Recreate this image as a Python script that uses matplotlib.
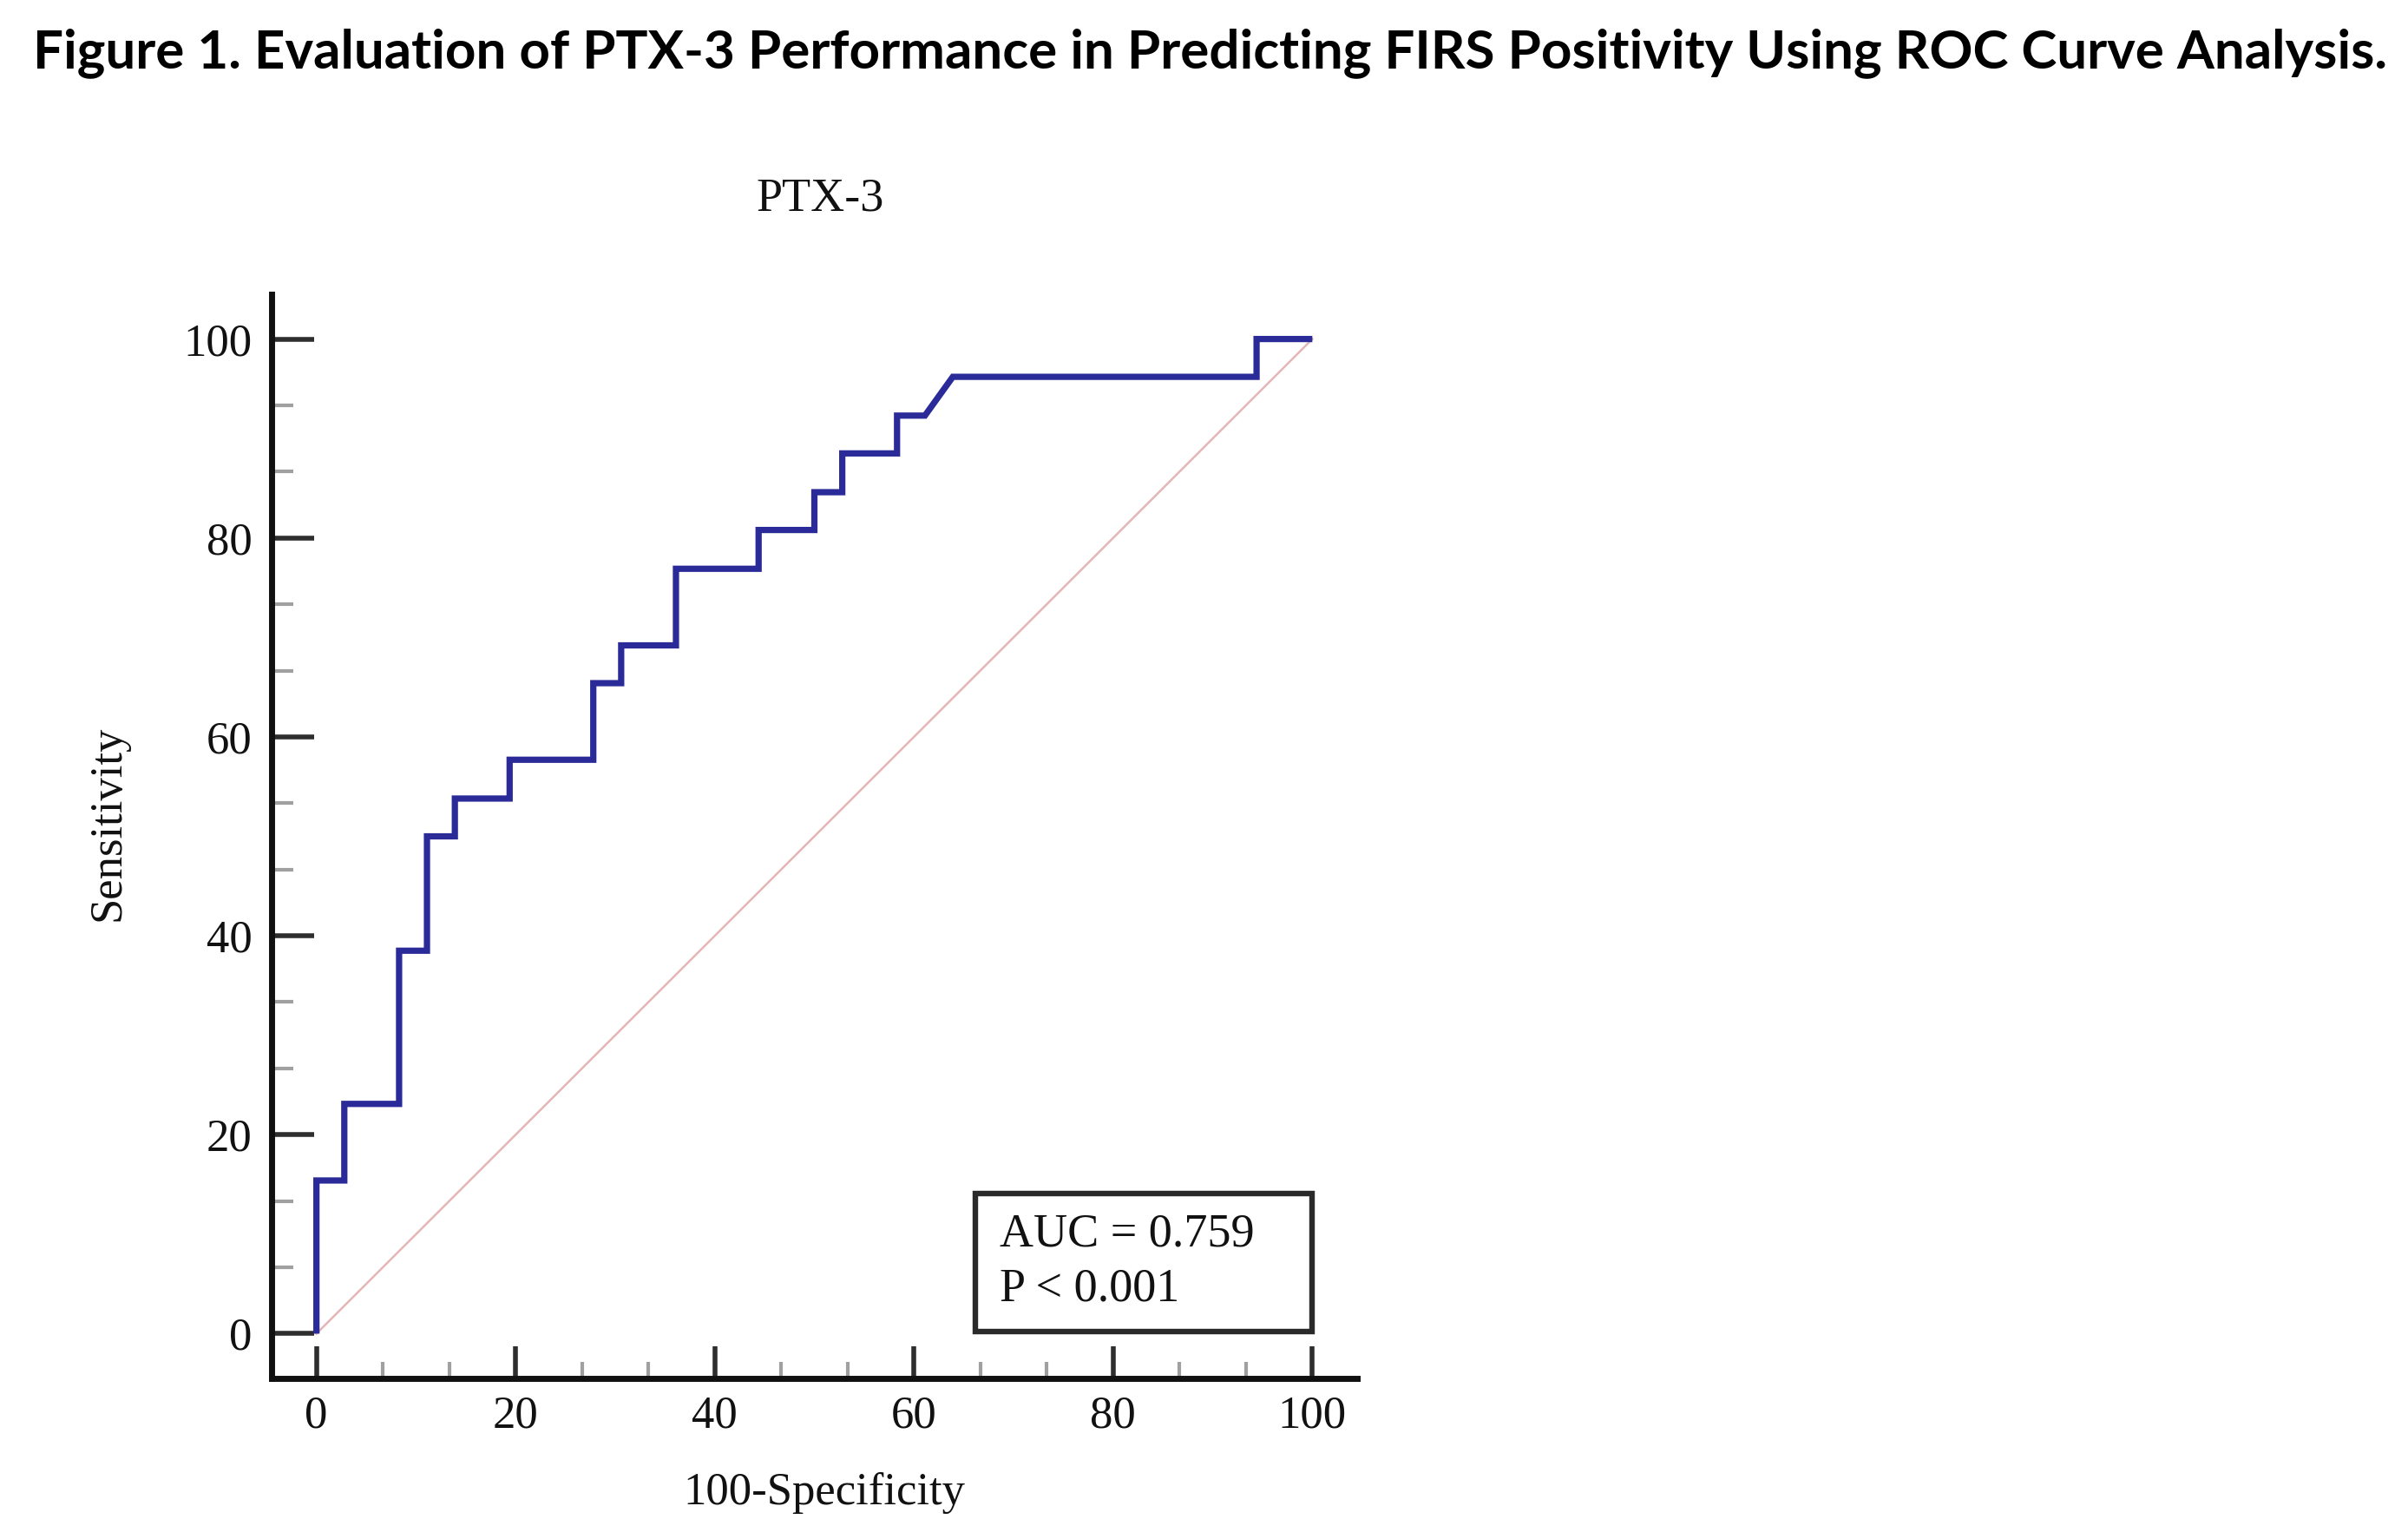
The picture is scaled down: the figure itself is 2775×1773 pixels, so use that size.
import matplotlib
matplotlib.use('Agg')
import matplotlib.pyplot as plt
from matplotlib.ticker import AutoMinorLocator
from matplotlib.patches import Rectangle

# ---------------- data ----------------
fpr = [0, 0, 2.8, 2.8, 8.3, 8.3, 11.1, 11.1, 13.9, 13.9, 19.4, 19.4,
       27.8, 27.8, 30.6, 30.6, 36.1, 36.1, 44.4, 44.4, 50.0, 50.0,
       52.8, 52.8, 58.3, 58.3, 61.1, 63.9, 94.4, 94.4, 100]
sensitivity = [0, 15.4, 15.4, 23.1, 23.1, 38.5, 38.5, 50.0, 50.0, 53.8, 53.8,
               57.7, 57.7, 65.4, 65.4, 69.2, 69.2, 76.9, 76.9, 80.8, 80.8,
               84.6, 84.6, 88.5, 88.5, 92.3, 92.3, 96.2, 96.2, 100, 100]
ref_x = [0, 100]
ref_y = [0, 100]
xticks = [0, 20, 40, 60, 80, 100]
yticks = [0, 20, 40, 60, 80, 100]
auc_text = "AUC = 0.759"
p_text = "P < 0.001"
panel_title = "PTX-3"
x_label = "100-Specificity"
y_label = "Sensitivity"
fig_title = "Figure 1. Evaluation of PTX-3 Performance in Predicting FIRS Positivity Using ROC Curve Analysis."

# ---------------- figure ----------------
W, H, DPI = 2775, 1773, 100
plt.rcParams['font.family'] = ['Liberation Serif', 'DejaVu Serif']
fig = plt.figure(figsize=(W / DPI, H / DPI), dpi=DPI)
fig.patch.set_facecolor('white')
ax = fig.add_axes([313 / W, 1 - 1588 / H, (1564 - 313) / W, (1588 - 339) / H])

ax.plot(ref_x, ref_y, color='#e4b6b6', lw=1.8, zorder=2)
ax.plot(fpr, sensitivity, color='#2a2a98', lw=5.2,
        solid_joinstyle='miter', solid_capstyle='butt', zorder=3)

ax.set_xlim(-4.5, 104.5)
ax.set_ylim(-4.5, 104.5)
for s in ('top', 'right'):
    ax.spines[s].set_visible(False)
for s in ('left', 'bottom'):
    ax.spines[s].set_linewidth(5.0)
    ax.spines[s].set_color('#111111')

ax.set_xticks(xticks)
ax.set_yticks(yticks)
ax.xaxis.set_minor_locator(AutoMinorLocator(3))
ax.yaxis.set_minor_locator(AutoMinorLocator(3))
ax.tick_params(axis='y', which='major', direction='in', length=35, width=4.0,
               color='#2e2e2e', pad=16, labelsize=38, labelcolor='#111111')
ax.tick_params(axis='y', which='minor', direction='in', length=18, width=3.0,
               color='#a0a0a0')
ax.tick_params(axis='x', which='major', direction='in', length=27, width=4.0,
               color='#2e2e2e', pad=14, labelsize=38, labelcolor='#111111')
ax.tick_params(axis='x', which='minor', direction='in', length=14, width=3.0,
               color='#a0a0a0')

# AUC box
ax.add_patch(Rectangle((66.2, 0.2), 33.8, 13.9, facecolor='white',
                       edgecolor='#2a2a2a', lw=4.6, zorder=4))
ax.text(68.6, 8.8, auc_text, va='baseline', ha='left', fontsize=39,
        color='#111111', zorder=5)
ax.text(68.6, 3.3, p_text, va='baseline', ha='left', fontsize=39,
        color='#111111', zorder=5)

# labels
ax.set_xlabel(x_label, fontsize=38, va='baseline', color='#111111')
ax.xaxis.set_label_coords(0.509, -0.116)
ax.set_ylabel(y_label, fontsize=38, va='baseline', ha='center',
              rotation=90, rotation_mode='anchor', color='#111111')
ax.yaxis.set_label_coords(-0.14, 0.512)
ax.text(0.505, 1.077, panel_title, transform=ax.transAxes, ha='center',
        va='baseline', fontsize=39, color='#111111')

# figure title, fitted to the reference width
t = fig.text((38 + 2752) / 2 / W, 1 - 78 / H, fig_title, ha='center',
             va='baseline', fontsize=45, fontweight='bold',
             family=['Lato', 'DejaVu Sans'], color='black')
fig.canvas.draw()
bb = t.get_window_extent()
t.set_fontsize(45 * (2714 / bb.width))

fig.savefig('out.png', dpi=DPI, facecolor='white')
